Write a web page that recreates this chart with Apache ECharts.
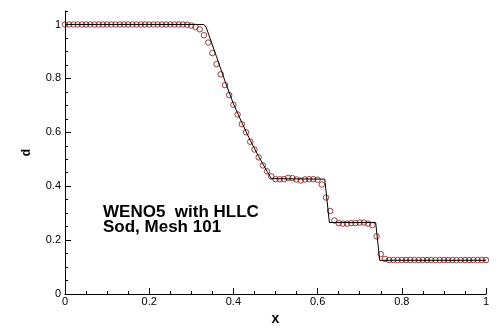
<!DOCTYPE html>
<html><head><meta charset="utf-8">
<script src="https://cdn.jsdelivr.net/npm/echarts@6/dist/echarts.min.js"></script>
<style>html,body{margin:0;padding:0;background:#fff}#c{width:500px;height:331px}</style>
</head><body><div id="c"></div>
<script>
// Numerical solution (WENO5 with HLLC, mesh 101) — grid points and densities
const meshX = [0,0.01,0.02,0.03,0.04,0.05,0.06,0.07,0.08,0.09,
  0.1,0.11,0.12,0.13,0.14,0.15,0.16,0.17,0.18,0.19,
  0.2,0.21,0.22,0.23,0.24,0.25,0.26,0.27,0.28,0.29,
  0.3,0.31,0.32,0.33,0.34,0.35,0.36,0.37,0.38,0.39,
  0.4,0.41,0.42,0.43,0.44,0.45,0.46,0.47,0.48,0.49,
  0.5,0.51,0.52,0.53,0.54,0.55,0.56,0.57,0.58,0.59,
  0.6,0.61,0.62,0.63,0.64,0.65,0.66,0.67,0.68,0.69,
  0.7,0.71,0.72,0.73,0.74,0.75,0.76,0.77,0.78,0.79,
  0.8,0.81,0.82,0.83,0.84,0.85,0.86,0.87,0.88,0.89,
  0.9,0.91,0.92,0.93,0.94,0.95,0.96,0.97,0.98,0.99,1];
const meshD = [1,1,1,1,1,1,1,1,1,1,
  1,1,1,1,1,1,1,1,1,1,
  1,1,1,1,1,1,1,1,1,0.999,
  0.996,0.991,0.982,0.960,0.933,0.894,0.853,0.815,0.775,0.738,
  0.702,0.666,0.630,0.600,0.565,0.536,0.507,0.477,0.455,0.436,
  0.426,0.426,0.426,0.431,0.430,0.425,0.421,0.425,0.426,0.426,
  0.424,0.406,0.358,0.308,0.273,0.263,0.261,0.261,0.263,0.263,
  0.265,0.265,0.261,0.256,0.214,0.148,0.130,0.126,0.126,0.126,
  0.126,0.126,0.126,0.126,0.126,0.126,0.126,0.126,0.126,0.126,
  0.126,0.126,0.126,0.126,0.126,0.126,0.126,0.126,0.126,0.126,0.126];

// Exact solution (solid line) — vertices
const exactX = [0,0.330,0.335,0.342,0.36,0.38,0.40,0.42,0.44,0.46,0.48,0.490,0.617,0.628,0.738,0.7475,1];
const exactD = [1,1,0.99,0.96,0.88,0.79,0.706,0.636,0.570,0.510,0.455,0.428,0.426,0.265,0.265,0.125,0.125];

// Axis ticks
const xMajorTicks = [0,0.2,0.4,0.6,0.8,1];
const xMinorTicks = [0.05,0.1,0.15,0.25,0.3,0.35,0.45,0.5,0.55,0.65,0.7,0.75,0.85,0.9,0.95];
const yMajorTicks = [0,0.2,0.4,0.6,0.8,1];
const yMinorTicks = [0.05,0.1,0.15,0.25,0.3,0.35,0.45,0.5,0.55,0.65,0.7,0.75,0.85,0.9,0.95,1.05];
const xTickLabels = ['0','0.2','0.4','0.6','0.8','1'];
const yTickLabels = ['0','0.2','0.4','0.6','0.8','1'];

const annotationLines = ['WENO5  with HLLC', 'Sod, Mesh 101'];

const FONT = '"Liberation Sans", Arial, sans-serif';
const numPts = meshX.map((x, i) => [x, meshD[i]]);
const exactPts = exactX.map((x, i) => [x, exactD[i]]);
const fmt = (labels, ticks) => v => {
  const k = ticks.findIndex(t => Math.abs(t - v) < 1e-9);
  return k >= 0 ? labels[k] : '';
};

const chart = echarts.init(document.getElementById('c'), null, {renderer: 'canvas'});
chart.setOption({
  animation: false,
  backgroundColor: '#fff',
  grid: {left: 65, right: 14, top: 11, bottom: 37, containLabel: false},
  xAxis: [{
    type: 'value', min: 0, max: 1, position: 'bottom',
    name: 'x', nameLocation: 'middle', nameGap: 13,
    nameTextStyle: {fontFamily: FONT, fontSize: 14, fontWeight: 'bold', color: '#000'},
    axisLine: {show: true, lineStyle: {color: '#000', width: 1}},
    axisTick: {show: true, inside: true, length: 6, customValues: xMajorTicks, lineStyle: {color: '#000'}},
    axisLabel: {show: true, customValues: xMajorTicks, formatter: fmt(xTickLabels, xMajorTicks), margin: 2,
      fontFamily: FONT, fontSize: 11, color: '#000'},
    splitLine: {show: false}
  }, {
    type: 'value', min: 0, max: 1, position: 'bottom', offset: 0,
    axisLine: {show: false},
    axisTick: {show: true, inside: true, length: 3, customValues: xMinorTicks, lineStyle: {color: '#000'}},
    axisLabel: {show: false},
    splitLine: {show: false}
  }],
  yAxis: [{
    type: 'value', min: 0, max: 1.05, position: 'left',
    name: 'd', nameLocation: 'middle', nameGap: 32, nameRotate: 90,
    nameTextStyle: {fontFamily: FONT, fontSize: 12, fontWeight: 'bold', color: '#000'},
    axisLine: {show: true, lineStyle: {color: '#000', width: 1}},
    axisTick: {show: true, inside: true, length: 6, customValues: yMajorTicks, lineStyle: {color: '#000'}},
    axisLabel: {show: true, customValues: yMajorTicks, formatter: fmt(yTickLabels, yMajorTicks), margin: 4,
      fontFamily: FONT, fontSize: 11, color: '#000'},
    splitLine: {show: false}
  }, {
    type: 'value', min: 0, max: 1.05, position: 'left', offset: 0,
    axisLine: {show: false},
    axisTick: {show: true, inside: true, length: 3, customValues: yMinorTicks, lineStyle: {color: '#000'}},
    axisLabel: {show: false},
    splitLine: {show: false}
  }],
  series: [{
    type: 'scatter', xAxisIndex: 0, yAxisIndex: 0, data: numPts,
    symbol: 'circle', symbolSize: 5.5, z: 2,
    itemStyle: {color: 'rgba(0,0,0,0)', borderColor: '#8e0c0c', borderWidth: 1}
  }, {
    type: 'line', xAxisIndex: 0, yAxisIndex: 0, data: exactPts,
    showSymbol: false, symbol: 'none', z: 3,
    lineStyle: {color: '#000', width: 1}
  }],
  graphic: annotationLines.map((t, i) => ({
    type: 'text', left: 103, top: 204 + i * 15,
    style: {text: t, fontFamily: FONT, fontSize: 17, fontWeight: 'bold', fill: '#000'}
  }))
});
</script>
</body></html>
